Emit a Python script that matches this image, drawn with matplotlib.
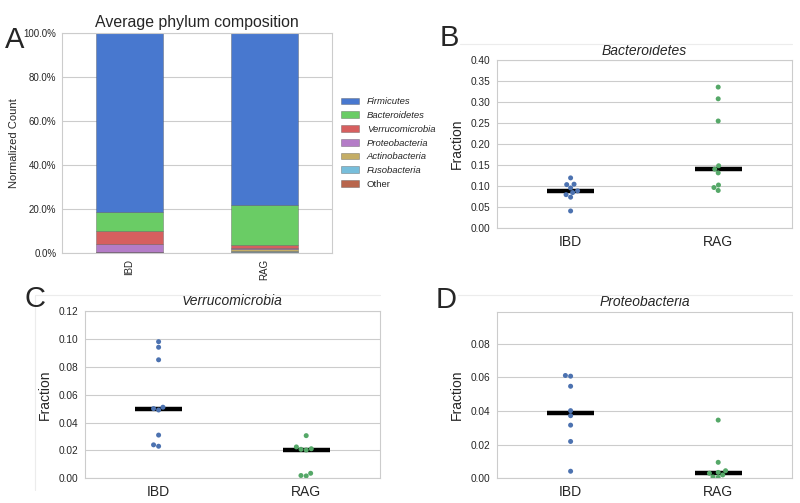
import numpy as np
import pandas as pd
import matplotlib
matplotlib.use('Agg')
from matplotlib import pyplot as plt
from matplotlib.lines import Line2D
from matplotlib.ticker import PercentFormatter, FormatStrFormatter
import seaborn as sns

sns.set_style('whitegrid')
plt.rcParams['font.family'] = ['Liberation Sans', 'DejaVu Sans']

groups = ['IBD', 'RAG']

# panel A: average phylum composition (fractions per group)
phyla = ['Firmicutes', 'Bacteroidetes', 'Verrucomicrobia', 'Proteobacteria',
         'Actinobacteria', 'Fusobacteria', 'Other']
phylum_colors = ['#4878CF', '#6ACC65', '#D65F5F', '#B47CC7', '#C4AD66', '#77BEDB', '#B8654C']
ibd_comp = [0.815, 0.083, 0.061, 0.035, 0.003, 0.000, 0.003]
rag_comp = [0.783, 0.181, 0.011, 0.008, 0.009, 0.005, 0.003]

# panels B-D: per-sample fractions
bact_ibd = [0.119, 0.104, 0.103, 0.095, 0.088, 0.084, 0.079, 0.073, 0.040]
bact_rag = [0.336, 0.308, 0.255, 0.148, 0.140, 0.131, 0.102, 0.096, 0.089]
verr_ibd = [0.098, 0.094, 0.085, 0.051, 0.050, 0.049, 0.031, 0.024, 0.023]
verr_rag = [0.0306, 0.0225, 0.0212, 0.0208, 0.0203, 0.0036, 0.0020, 0.0017]
prot_ibd = [0.0611, 0.0607, 0.0547, 0.0402, 0.0372, 0.0316, 0.0219, 0.0042]
prot_rag = [0.0346, 0.0095, 0.0045, 0.0035, 0.0030, 0.0020, 0.0008, 0.0005]

dot_colors = {'IBD': '#4C72B0', 'RAG': '#55A868'}

fig = plt.figure(figsize=(8, 5.03), dpi=100)

# ---- A: stacked bars
axA = fig.add_axes([0.0775, 0.497, 0.3375, 0.4374])
comp = np.array([ibd_comp, rag_comp])
x = np.arange(len(groups))
bottoms = np.zeros(len(groups))
handles = {}
for i in reversed(range(len(phyla))):
    h = axA.bar(x, comp[:, i], 0.5, bottom=bottoms, color=phylum_colors[i],
                edgecolor=(0.3, 0.3, 0.3, 0.5), linewidth=0.5)
    handles[phyla[i]] = h
    bottoms += comp[:, i]
axA.set_xlim(-0.5, 1.5)
axA.set_ylim(0, 1)
axA.set_yticks(np.arange(0, 1.01, 0.2))
axA.yaxis.set_major_formatter(PercentFormatter(xmax=1, decimals=1))
axA.set_xticks(x)
axA.set_xticklabels(groups, rotation=90)
axA.tick_params(labelsize=7, length=0, pad=4)
axA.xaxis.grid(False)
axA.set_ylabel('Normalized Count', fontsize=8, labelpad=3)
axA.set_title('Average phylum composition', fontsize=11.4, pad=4)
leg = axA.legend([handles[p] for p in phyla], phyla, loc='center left',
                 bbox_to_anchor=(1.0, 0.5), frameon=False, fontsize=6.8)
for t in leg.get_texts()[:-1]:
    t.set_fontstyle('italic')


def strip_panel(ax, ibd, rag, title, ymax, step, ytop=None):
    df = pd.DataFrame({'group': ['IBD'] * len(ibd) + ['RAG'] * len(rag),
                       'value': list(ibd) + list(rag)})
    sns.swarmplot(data=df, x='group', y='value', hue='group', order=groups,
                  palette=dot_colors, size=3.6, ax=ax, legend=False, zorder=2)
    for i, vals in enumerate([ibd, rag]):
        ax.hlines(np.median(vals), i - 0.16, i + 0.16, color='black', lw=3.2, zorder=1.5)
    ax.set_xlim(-0.5, 1.5)
    ax.set_ylim(0, ytop if ytop else ymax)
    ax.set_yticks(np.arange(0, ymax + step / 2, step))
    ax.yaxis.set_major_formatter(FormatStrFormatter('%.2f'))
    ax.xaxis.grid(False)
    ax.tick_params(axis='y', labelsize=7.3, length=0, pad=4.5)
    ax.tick_params(axis='x', labelsize=10, length=0, pad=5)
    ax.set_xlabel('')
    ax.set_ylabel('Fraction', fontsize=10, labelpad=5)
    ax.set_title(title, fontsize=10, style='italic', pad=4)


axB = fig.add_axes([0.621, 0.5473, 0.369, 0.3328])
strip_panel(axB, bact_ibd, bact_rag, 'Bacteroidetes', 0.40, 0.05)

axC = fig.add_axes([0.106, 0.0491, 0.369, 0.3326])
strip_panel(axC, verr_ibd, verr_rag, 'Verrucomicrobia', 0.12, 0.02)

axD = fig.add_axes([0.621, 0.0491, 0.369, 0.3312])
strip_panel(axD, prot_ibd, prot_rag, 'Proteobacteria', 0.08, 0.02, ytop=0.099)

# faint frame remnants around panels
faint = '#ececec'
for xs, ys in [((460, 792), (44, 44)), ((35, 380), (295, 295)), ((35, 35), (295, 490)),
               ((458, 792), (295, 295))]:
    fig.add_artist(Line2D([xs[0] / 800, xs[1] / 800], [1 - ys[0] / 503, 1 - ys[1] / 503],
                          color=faint, lw=0.8))

# panel letters
for letter, px, py in [('A', 5, 48), ('B', 440, 46.5), ('C', 24, 307), ('D', 436, 308)]:
    fig.text(px / 800, 1 - py / 503, letter, fontsize=21, va='baseline', ha='left')

fig.savefig('out.png', dpi=100)
